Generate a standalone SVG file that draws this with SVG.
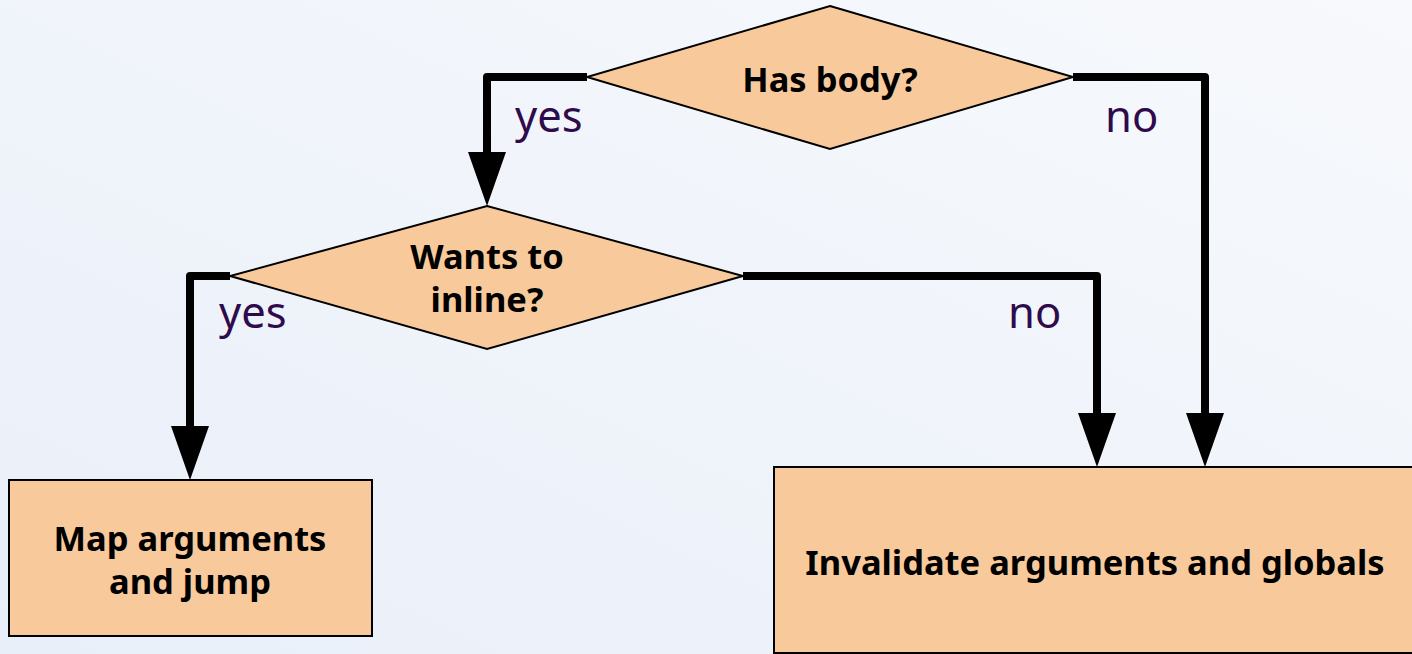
<svg xmlns="http://www.w3.org/2000/svg" width="1412" height="654" viewBox="0 0 1412 654">
  <defs>
    <linearGradient id="bg" x1="0" y1="1" x2="1" y2="0">
      <stop offset="0" stop-color="#e9eff9"/>
      <stop offset="1" stop-color="#f7f9fc"/>
    </linearGradient>
    <marker id="arrow" markerUnits="userSpaceOnUse" markerWidth="60" markerHeight="40" viewBox="0 -20 60 40" refX="0" refY="0" orient="auto" overflow="visible">
      <path d="M0,-19 L54,0 L0,19 Z" fill="#000"/>
    </marker>
    <style>
      .shape { fill: #f8ca9b; stroke: #000; stroke-width: 2; }
      .title { font-family: "Noto Sans", "DejaVu Sans", sans-serif; font-weight: bold; font-size: 34.5px; fill: #000; text-anchor: middle; }
      .edge { fill: none; stroke: #000; stroke-width: 8; stroke-linejoin: round; marker-end: url(#arrow); }
      .label { font-family: "Noto Sans", "DejaVu Sans", sans-serif; font-size: 43.5px; fill: #2e0b4b; }
    </style>
  </defs>

  <rect x="0" y="0" width="1412" height="654" fill="url(#bg)"/>

  <!-- connectors with their branch labels -->
  <g id="connectors">
    <path class="edge" d="M587,77 H487 V152"/>
    <path class="edge" d="M1073,77 H1205 V413"/>
    <path class="edge" d="M230,276 H190 V426"/>
    <path class="edge" d="M743,276 H1097 V413"/>
    <text class="label" x="515" y="132">yes</text>
    <text class="label" x="1105" y="132">no</text>
    <text class="label" x="219" y="328">yes</text>
    <text class="label" x="1008" y="328">no</text>
  </g>

  <!-- decision: has body -->
  <g id="has-body">
    <polygon class="shape" points="830,6 1073,77 830,149 587,77"/>
    <text class="title" x="830" y="92">Has body?</text>
  </g>

  <!-- decision: wants to inline -->
  <g id="wants-inline">
    <polygon class="shape" points="487,206 743,276 487,349 230,276"/>
    <text class="title"><tspan x="487" y="269">Wants to</tspan><tspan x="487" y="312">inline?</tspan></text>
  </g>

  <!-- action: map arguments -->
  <g id="map-args">
    <rect class="shape" x="9" y="480" width="363" height="156"/>
    <text class="title"><tspan x="190" y="551">Map arguments</tspan><tspan x="190" y="594">and jump</tspan></text>
  </g>

  <!-- action: invalidate -->
  <g id="invalidate">
    <rect class="shape" x="774" y="467" width="660" height="186"/>
    <text class="title" x="1095" y="575">Invalidate arguments and globals</text>
  </g>
</svg>
